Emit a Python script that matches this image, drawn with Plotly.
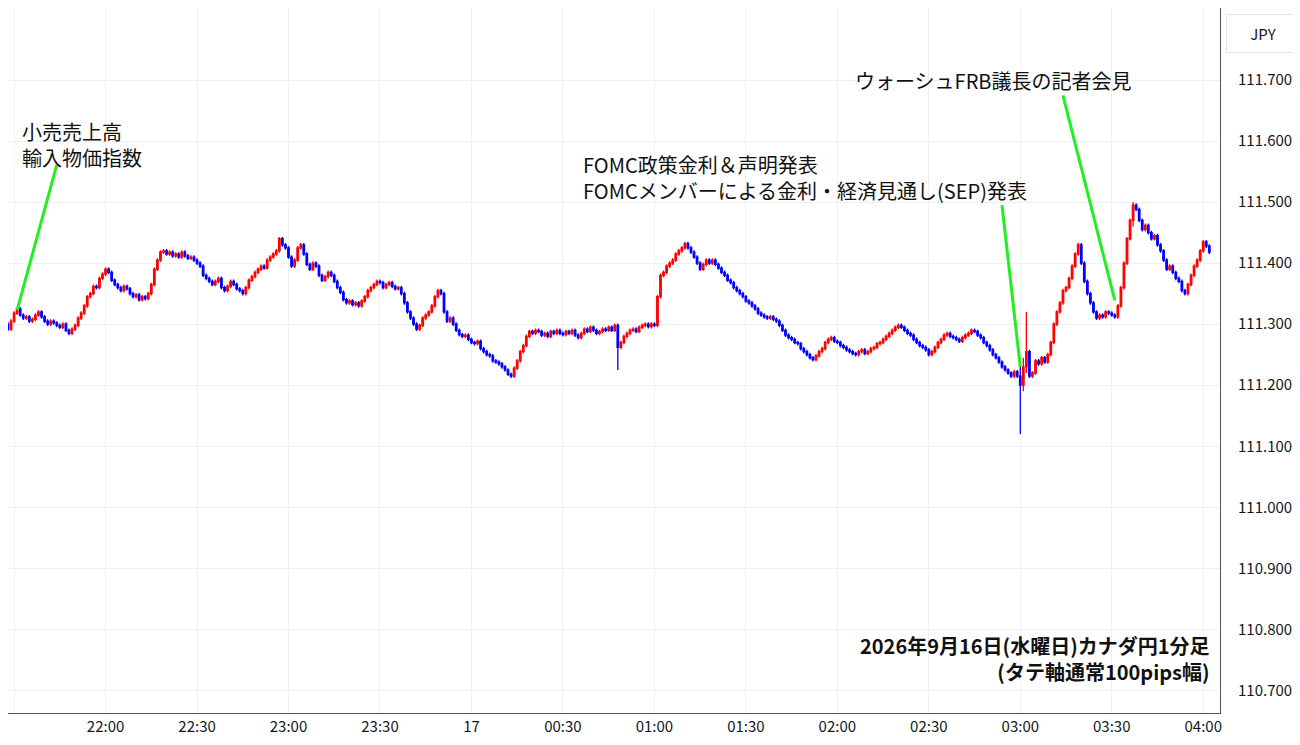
import pandas as pd
import plotly.graph_objects as go

start = pd.Timestamp("2026-09-16 21:25")

closes = [
    # 21:25
    111.290, 111.295, 111.300, 111.292, 111.305,
    # 21:30
    111.318, 111.325, 111.315, 111.310, 111.312, 111.305, 111.308, 111.315, 111.320, 111.312,
    111.305, 111.300, 111.305, 111.302, 111.298, 111.295, 111.300, 111.290, 111.285, 111.292,
    111.298, 111.310, 111.318, 111.330, 111.345, 111.350, 111.362, 111.360, 111.375, 111.382,
    # 22:00
    111.390, 111.385, 111.372, 111.365, 111.360, 111.355, 111.362, 111.358, 111.350, 111.345,
    111.348, 111.340, 111.345, 111.342, 111.350, 111.365, 111.390, 111.405, 111.418, 111.420,
    111.415, 111.418, 111.412, 111.415, 111.410, 111.418, 111.412, 111.408, 111.410, 111.405,
    # 22:30
    111.400, 111.395, 111.380, 111.375, 111.370, 111.365, 111.370, 111.375, 111.360, 111.355,
    111.362, 111.370, 111.365, 111.358, 111.355, 111.350, 111.360, 111.372, 111.378, 111.385,
    111.390, 111.395, 111.392, 111.405, 111.410, 111.415, 111.420, 111.440, 111.430, 111.425,
    # 23:00
    111.410, 111.395, 111.405, 111.425, 111.430, 111.415, 111.398, 111.390, 111.400, 111.395,
    111.380, 111.372, 111.378, 111.385, 111.380, 111.370, 111.360, 111.352, 111.340, 111.335,
    111.338, 111.332, 111.335, 111.330, 111.338, 111.345, 111.355, 111.360, 111.365, 111.370,
    # 23:30
    111.368, 111.360, 111.365, 111.368, 111.362, 111.358, 111.360, 111.350, 111.335, 111.320,
    111.310, 111.300, 111.292, 111.298, 111.310, 111.315, 111.320, 111.330, 111.345, 111.355,
    111.350, 111.320, 111.305, 111.310, 111.300, 111.290, 111.283, 111.280, 111.282, 111.275,
    # 00:00
    111.270, 111.268, 111.272, 111.260, 111.255, 111.250, 111.248, 111.240, 111.238, 111.235,
    111.230, 111.225, 111.218, 111.215, 111.228, 111.240, 111.255, 111.265, 111.280, 111.288,
    111.285, 111.290, 111.288, 111.282, 111.285, 111.280, 111.288, 111.285, 111.290, 111.285,
    # 00:30
    111.283, 111.288, 111.285, 111.290, 111.282, 111.278, 111.285, 111.292, 111.288, 111.295,
    111.290, 111.285, 111.288, 111.292, 111.290, 111.295, 111.290, 111.298, 111.262, 111.270,
    111.280, 111.285, 111.290, 111.292, 111.288, 111.295, 111.298, 111.300, 111.296, 111.300,
    # 01:00
    111.298, 111.345, 111.380, 111.385, 111.395, 111.400, 111.405, 111.415, 111.420, 111.425,
    111.432, 111.425, 111.418, 111.410, 111.400, 111.390, 111.398, 111.405, 111.400, 111.405,
    111.398, 111.392, 111.385, 111.380, 111.372, 111.368, 111.360, 111.355, 111.350, 111.345,
    # 01:30
    111.338, 111.335, 111.330, 111.325, 111.318, 111.315, 111.312, 111.310, 111.312, 111.308,
    111.305, 111.298, 111.290, 111.282, 111.278, 111.275, 111.270, 111.268, 111.260, 111.255,
    111.250, 111.245, 111.242, 111.248, 111.255, 111.260, 111.270, 111.275, 111.278, 111.272,
    # 02:00
    111.270, 111.265, 111.262, 111.258, 111.255, 111.252, 111.250, 111.255, 111.258, 111.252,
    111.255, 111.260, 111.262, 111.268, 111.270, 111.275, 111.280, 111.285, 111.290, 111.295,
    111.298, 111.295, 111.290, 111.285, 111.282, 111.275, 111.270, 111.265, 111.262, 111.258,
    # 02:30
    111.250, 111.255, 111.262, 111.270, 111.275, 111.282, 111.285, 111.280, 111.278, 111.275,
    111.272, 111.278, 111.282, 111.285, 111.290, 111.288, 111.282, 111.278, 111.270, 111.265,
    111.258, 111.250, 111.245, 111.238, 111.230, 111.225, 111.220, 111.215, 111.222, 111.215,
    # 03:00
    111.200, 111.230, 111.255, 111.215, 111.220, 111.240, 111.235, 111.245, 111.238, 111.250,
    111.270, 111.300, 111.320, 111.335, 111.355, 111.360, 111.375, 111.395, 111.415, 111.430,
    111.400, 111.370, 111.350, 111.335, 111.320, 111.310, 111.315, 111.312, 111.320, 111.318,
    # 03:30
    111.315, 111.312, 111.330, 111.360, 111.400, 111.440, 111.470, 111.495, 111.488, 111.470,
    111.455, 111.462, 111.450, 111.440, 111.445, 111.430, 111.420, 111.405, 111.390, 111.395,
    111.385, 111.375, 111.370, 111.355, 111.350, 111.365, 111.380, 111.395, 111.405, 111.420,
    # 04:00
    111.435, 111.428, 111.418,
]

# extra wick extremes: time -> (high, low)
wicks = {
    "00:48": (111.300, 111.225),
    "03:00": (111.240, 111.120),
    "03:01": (111.245, 111.190),
    "03:02": (111.320, 111.220),
    "03:37": (111.500, 111.460),
}

times = [start + pd.Timedelta(minutes=i) for i in range(len(closes))]
opens = [closes[0]] + closes[:-1]
highs = [max(o, c) + 0.003 for o, c in zip(opens, closes)]
lows = [min(o, c) - 0.003 for o, c in zip(opens, closes)]
for i, t in enumerate(times):
    k = t.strftime("%H:%M")
    if k in wicks:
        highs[i] = max(highs[i], wicks[k][0])
        lows[i] = min(lows[i], wicks[k][1])

tick_times = pd.date_range("2026-09-16 21:30", "2026-09-17 04:00", freq="30min")
tick_text = ["17" if t.hour == 0 and t.minute == 0 else t.strftime("%H:%M") for t in tick_times]
y_ticks = [110.7 + 0.1 * i for i in range(11)]

font = "Noto Sans CJK JP"

fig = go.Figure()
fig.add_trace(go.Candlestick(
    x=times, open=opens, high=highs, low=lows, close=closes,
    increasing=dict(line=dict(color="#ff0000", width=1.3), fillcolor="#ff0000"),
    decreasing=dict(line=dict(color="#0000ff", width=1.3), fillcolor="#0000ff"),
    whiskerwidth=0, showlegend=False,
))

# event lines (time, price) pairs
events = [
    ("2026-09-16 21:44", 111.561, "2026-09-16 21:31", 111.323),
    ("2026-09-17 02:54", 111.495, "2026-09-17 03:00", 111.230),
    ("2026-09-17 03:14", 111.675, "2026-09-17 03:31", 111.339),
]
for x0, y0, x1, y1 in events:
    fig.add_shape(type="line", x0=x0, y0=y0, x1=x1, y1=y1,
                  line=dict(color="#22ee22", width=3))

labels = [
    ("2026-09-16 21:32", 111.595, "小売売上高<br>輸入物価指数"),
    ("2026-09-17 00:36", 111.54, "FOMC政策金利＆声明発表<br>FOMCメンバーによる金利・経済見通し(SEP)発表"),
    ("2026-09-17 02:05", 111.700, "ウォーシュFRB議長の記者会見"),
]
for x, y, txt in labels:
    fig.add_annotation(x=x, y=y, text=txt, showarrow=False, xanchor="left", yanchor="middle",
                       align="left", font=dict(family=font, size=20, color="#111"))

fig.add_annotation(x=0.993, y=0.035, xref="x domain", yref="paper", showarrow=False,
                   xanchor="right", yanchor="bottom", align="right",
                   text="<b>2026年9月16日(水曜日)カナダ円1分足<br>(タテ軸通常100pips幅)</b>",
                   font=dict(family=font, size=20, color="#111"))
fig.add_annotation(x=1.0, y=1.0, xref="paper", yref="paper", xshift=6, yshift=-6,
                   showarrow=False, xanchor="left", yanchor="top", text="JPY",
                   bordercolor="#e0e3eb", borderwidth=1, borderpad=8, bgcolor="white",
                   width=56, font=dict(family=font, size=15, color="#131722"))

fig.update_layout(
    width=1300, height=745, plot_bgcolor="white", paper_bgcolor="white",
    margin=dict(l=0, r=88, t=0, b=40),
    font=dict(family=font, color="#131722"),
    xaxis=dict(
        range=["2026-09-16 21:28:00", "2026-09-17 04:05:30"],
        rangeslider=dict(visible=False), tickvals=tick_times, ticktext=tick_text,
        showgrid=True, gridcolor="#eef0f3", ticks="", showline=True, linecolor="#555",
        tickfont=dict(size=15),
    ),
    yaxis=dict(
        side="right", range=[110.663, 111.818], tickvals=y_ticks, tickformat=".3f",
        showgrid=True, gridcolor="#eef0f3", showline=True, linecolor="#555",
        ticks="", tickfont=dict(size=15), ticklabelstandoff=14,
    ),
)

fig.write_html("out.html")
